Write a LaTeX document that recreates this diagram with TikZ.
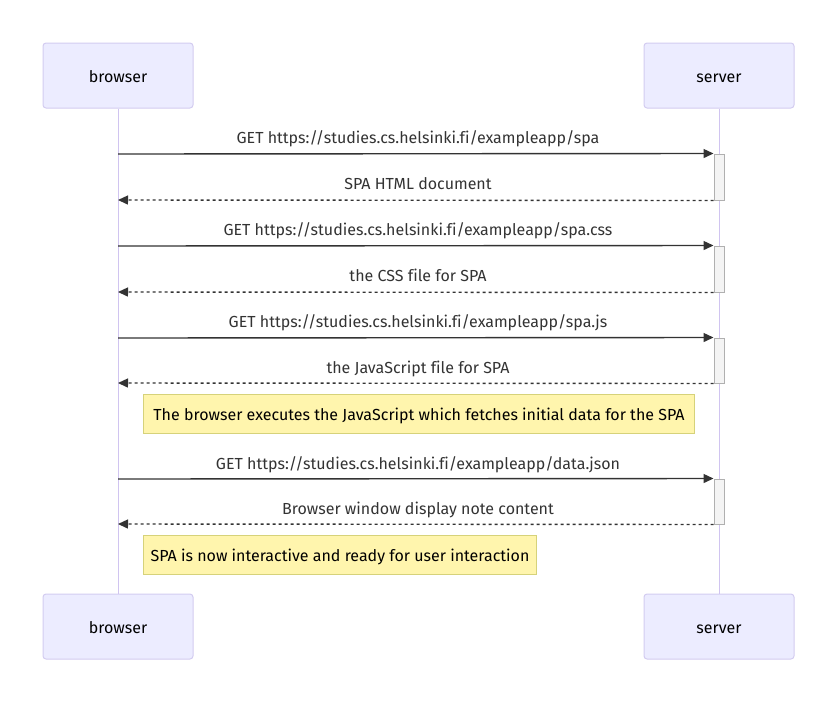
\documentclass[tikz,border=0pt]{standalone}
\usepackage{fontspec}
\setmainfont{Fira Sans}[Ligatures=NoCommon]
\usepackage{tikz}
\usetikzlibrary{arrows.meta,positioning}

\definecolor{actorfill}{HTML}{ECECFF}
\definecolor{actorline}{HTML}{D3CCF0}
\definecolor{lifeline}{HTML}{D0C4F0}
\definecolor{msgline}{HTML}{333333}
\definecolor{actfill}{HTML}{F4F4F4}
\definecolor{actline}{HTML}{B0B0B0}
\definecolor{notefill}{HTML}{FFF5AD}
\definecolor{noteline}{HTML}{D6D27A}

\tikzset{
	actor/.style={draw=actorline, fill=actorfill, rounded corners=3pt, line width=1pt,
		minimum width=150pt, minimum height=65pt, text height=14pt, text depth=1pt,
		font=\fontsize{16}{19}\selectfont},
	activation/.style={draw=actline, fill=actfill, line width=1pt, minimum width=10pt, inner sep=0pt},
	msg/.style={draw=msgline, line width=1.4pt, -{Triangle[length=10pt,width=9pt]}},
	reply/.style={msg, dash pattern=on 3pt off 3pt},
	msglabel/.style={font=\fontsize{16}{19}\selectfont, text=msgline, text height=14pt, text depth=1pt},
	note/.style={draw=noteline, fill=notefill, line width=1pt, minimum height=39pt,
		inner xsep=6pt, anchor=west, text height=14pt, text depth=1pt, font=\fontsize{16}{19}\selectfont}
}

\begin{document}
\begin{tikzpicture}[x=1pt, y=-1pt]
	\useasboundingbox (0,0) rectangle (837,702);
	% lifelines
	\node[actor] (browser) at (118,75.5) {browser};
	\node[actor] (server) at (719,75.5) {server};
	\node[actor] (browserEnd) at (118,626.5) {browser};
	\node[actor] (serverEnd) at (719,626.5) {server};
	\draw[lifeline, line width=1pt] (browser) -- (browserEnd);
	\draw[lifeline, line width=1pt] (server) -- (serverEnd);
	% activations
	\node[activation, minimum height=46pt] (act1) at (719,177) {};
	\node[activation, minimum height=46pt] (act2) at (719,269) {};
	\node[activation, minimum height=45pt] (act3) at (719,360.5) {};
	\node[activation, minimum height=45pt] (act4) at (719,501.5) {};
	\coordinate (b1) at (118,154);
	\coordinate (b2) at (118,200);
	\coordinate (b3) at (118,246);
	\coordinate (b4) at (118,292);
	\coordinate (b5) at (118,338);
	\coordinate (b6) at (118,383);
	\coordinate (b7) at (118,479);
	\coordinate (b8) at (118,524);
	% messages
	\draw[msg] (b1) -- (act1.north west);
	\node[msglabel] at (418,137) {GET https://studies.cs.helsinki.fi/exampleapp/spa};
	\draw[reply] (act1.south west) -- (b2);
	\node[msglabel] at (418,183) {SPA HTML document};
	\draw[msg] (b3) -- (act2.north west);
	\node[msglabel] at (418,229) {GET https://studies.cs.helsinki.fi/exampleapp/spa.css};
	\draw[reply] (act2.south west) -- (b4);
	\node[msglabel] at (418,275) {the CSS file for SPA};
	\draw[msg] (b5) -- (act3.north west);
	\node[msglabel] at (418,321) {GET https://studies.cs.helsinki.fi/exampleapp/spa.js};
	\draw[reply] (act3.south west) -- (b6);
	\node[msglabel] at (418,367) {the JavaScript file for SPA};
	\node[note, minimum width=551pt] (note1) at (143,413.5) {The browser executes the JavaScript which fetches initial data for the SPA};
	\draw[msg] (b7) -- (act4.north west);
	\node[msglabel] at (418,463) {GET https://studies.cs.helsinki.fi/exampleapp/data.json};
	\draw[reply] (act4.south west) -- (b8);
	\node[msglabel] at (418,508) {Browser window display note content};
	\node[note, minimum width=393pt] (note2) at (143,554.5) {SPA is now interactive and ready for user interaction};
\end{tikzpicture}
\end{document}
